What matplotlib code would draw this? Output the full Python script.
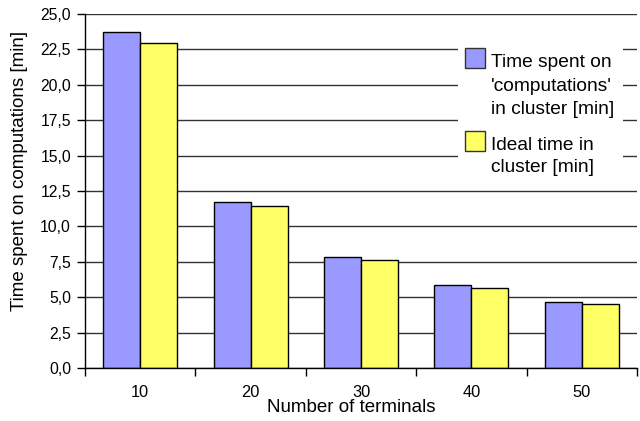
import matplotlib
matplotlib.use("Agg")
import matplotlib.pyplot as plt
from matplotlib.patches import Rectangle
from matplotlib.ticker import FixedLocator, FuncFormatter, NullFormatter
import numpy as np

plt.rcParams["font.family"] = ["Liberation Sans", "DejaVu Sans"]

# Data
terminals = ["10", "20", "30", "40", "50"]
time_computations = [23.75, 11.75, 7.87, 5.88, 4.64]
time_ideal = [22.98, 11.42, 7.66, 5.67, 4.55]
series_names = [["Time spent on", "'computations'", "in cluster [min]"],
                ["Ideal time in", "cluster [min]"]]
series_colors = ["#9999FF", "#FFFF66"]
y_ticks = [0, 2.5, 5, 7.5, 10, 12.5, 15, 17.5, 20, 22.5, 25]

W, H = 640, 421
fig = plt.figure(figsize=(W / 100, H / 100), dpi=100)
L, R, T, B = 85, 637, 14, 368
ax = fig.add_axes([L / W, 1 - B / H, (R - L) / W, (B - T) / H])

x = np.arange(len(terminals))
bw = 0.335
ax.bar(x - bw / 2, time_computations, bw, color=series_colors[0],
       edgecolor="black", linewidth=1, zorder=3)
ax.bar(x + bw / 2, time_ideal, bw, color=series_colors[1],
       edgecolor="black", linewidth=1, zorder=3)

ax.set_xlim(-0.5, len(terminals) - 0.5)
ax.set_ylim(0, 25)

# Y axis
ax.set_yticks(y_ticks)
ax.yaxis.set_major_formatter(FuncFormatter(lambda v, p: f"{v:.1f}".replace(".", ",")))
ax.tick_params(axis="y", direction="out", length=6, width=1, pad=4,
               labelsize=11.3, colors="black")
ax.yaxis.grid(True, color="#333333", linewidth=1.0, zorder=0)
ax.set_axisbelow(True)

# X axis: labels at category centers, ticks at category boundaries
ax.set_xticks(x)
ax.set_xticklabels(terminals, fontsize=11.8)
ax.tick_params(axis="x", which="major", length=0, pad=12)
ax.xaxis.set_minor_locator(FixedLocator(np.arange(-0.5, len(terminals), 1.0)))
ax.xaxis.set_minor_formatter(NullFormatter())
ax.tick_params(axis="x", which="minor", direction="out", length=6, width=1)

for s in ["top", "right"]:
    ax.spines[s].set_visible(False)
for s in ["left", "bottom"]:
    ax.spines[s].set_color("black")
    ax.spines[s].set_linewidth(1)
    ax.spines[s].set_zorder(4)

fig.text(20 / W, 1 - 171 / H, "Time spent on computations [min]",
         rotation=90, ha="center", va="center", fontsize=13.5)
fig.text(351 / W, 1 - 408 / H, "Number of terminals",
         ha="center", va="center", fontsize=13.5)

# Legend drawn as a borderless white box over the gridlines
def ax_x(px):
    return (px - L) / (R - L)

def ax_y(py):
    return (B - py) / (B - T)

ax.add_patch(Rectangle((ax_x(458), ax_y(183)), ax_x(623) - ax_x(458),
                       ax_y(44) - ax_y(183), transform=ax.transAxes,
                       facecolor="white", edgecolor="none", zorder=5))
entry_baselines = [[67, 91, 114], [150, 172]]
for lines, color, bases in zip(series_names, series_colors, entry_baselines):
    top = bases[0] - 19
    ax.add_patch(Rectangle((ax_x(465), ax_y(bases[0] + 1)), ax_x(485) - ax_x(465),
                           ax_y(top) - ax_y(bases[0] + 1), transform=ax.transAxes,
                           facecolor=color, edgecolor="#333333", linewidth=1,
                           zorder=6))
    for line, base in zip(lines, bases):
        ax.text(ax_x(491), ax_y(base), line, transform=ax.transAxes,
                ha="left", va="baseline", fontsize=13.8, zorder=6)

fig.savefig("out.png", dpi=100)
